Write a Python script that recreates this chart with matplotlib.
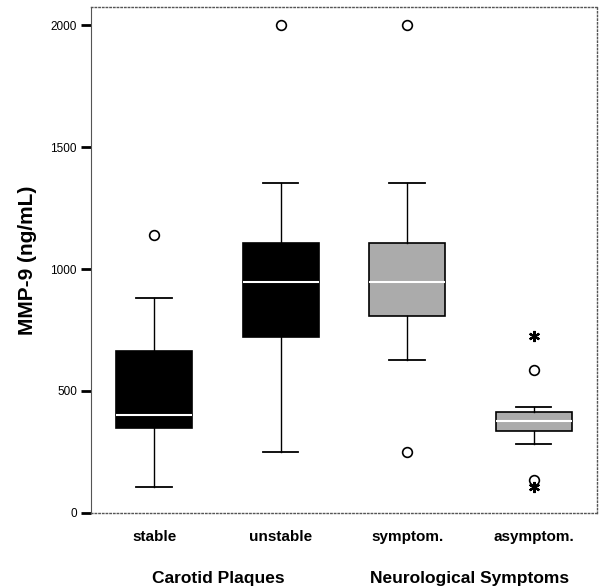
import matplotlib

matplotlib.use("Agg")
import matplotlib.pyplot as plt  # noqa: E402

plt.rcParams["font.family"] = ["Liberation Sans", "DejaVu Sans"]

categories = ["stable", "unstable", "symptom.", "asymptom."]
groups = ["Carotid Plaques", "Neurological Symptoms"]
q1 = [348, 721, 808, 336]
med = [402, 947, 945, 377]
q3 = [664, 1107, 1107, 414]
whislo = [107, 250, 625, 283]
whishi = [881, 1352, 1352, 434]
outliers = [[1139], [2000], [2000, 250], [586, 135]]
extremes = [[], [], [], [725, 105]]
fills = ["black", "black", "#ababab", "#ababab"]

stats = [
    {"label": c, "q1": a, "med": m, "q3": b, "whislo": lo, "whishi": hi, "fliers": f}
    for c, a, m, b, lo, hi, f in zip(categories, q1, med, q3, whislo, whishi, outliers)
]

fig = plt.figure(figsize=(6.06, 5.88), dpi=100)
ax = fig.add_axes([0.150, 0.1276, 0.835, 0.8605])

bp = ax.bxp(
    stats, positions=range(1, 5), widths=0.6, patch_artist=True,
    boxprops=dict(edgecolor="black", linewidth=1.2),
    medianprops=dict(color="white", linewidth=1.5),
    whiskerprops=dict(color="black", linewidth=1.0),
    capprops=dict(color="black", linewidth=1.3),
    capwidths=0.28,
    flierprops=dict(marker="o", markerfacecolor="white", markeredgecolor="black",
                    markersize=7, markeredgewidth=1.2, linestyle="none"),
)
for patch, c in zip(bp["boxes"], fills):
    patch.set_facecolor(c)

# extreme values drawn as asterisks
for i, ext in enumerate(extremes):
    if ext:
        ax.plot([i + 1] * len(ext), ext, linestyle="none", marker=(6, 2, 0),
                color="black", markersize=8, markeredgewidth=1.6)

ax.set_xlim(0.5, 4.5)
ax.set_ylim(0, 2074)
ax.set_yticks([0, 500, 1000, 1500, 2000])
ax.tick_params(axis="y", direction="out", length=7, width=2, labelsize=8.5, pad=3)
ax.set_xticks(range(1, 5))
ax.set_xticklabels(categories, fontsize=11, fontweight="bold")
ax.tick_params(axis="x", length=0, pad=12)
ax.set_ylabel("MMP-9 (ng/mL)", fontsize=15, fontweight="bold", labelpad=10)

for side in ["top", "right", "bottom"]:
    ax.spines[side].set_linestyle(":")
    ax.spines[side].set_color("#555555")
    ax.spines[side].set_linewidth(1.0)
ax.spines["left"].set_color("#555555")
ax.spines["left"].set_linewidth(0.8)

fig.text(218 / 606, 1 - 578 / 588, groups[0], ha="center", va="center",
         fontsize=12.5, fontweight="bold")
fig.text(470 / 606, 1 - 578 / 588, groups[1], ha="center", va="center",
         fontsize=12.5, fontweight="bold")

fig.savefig("out.png", dpi=100)
